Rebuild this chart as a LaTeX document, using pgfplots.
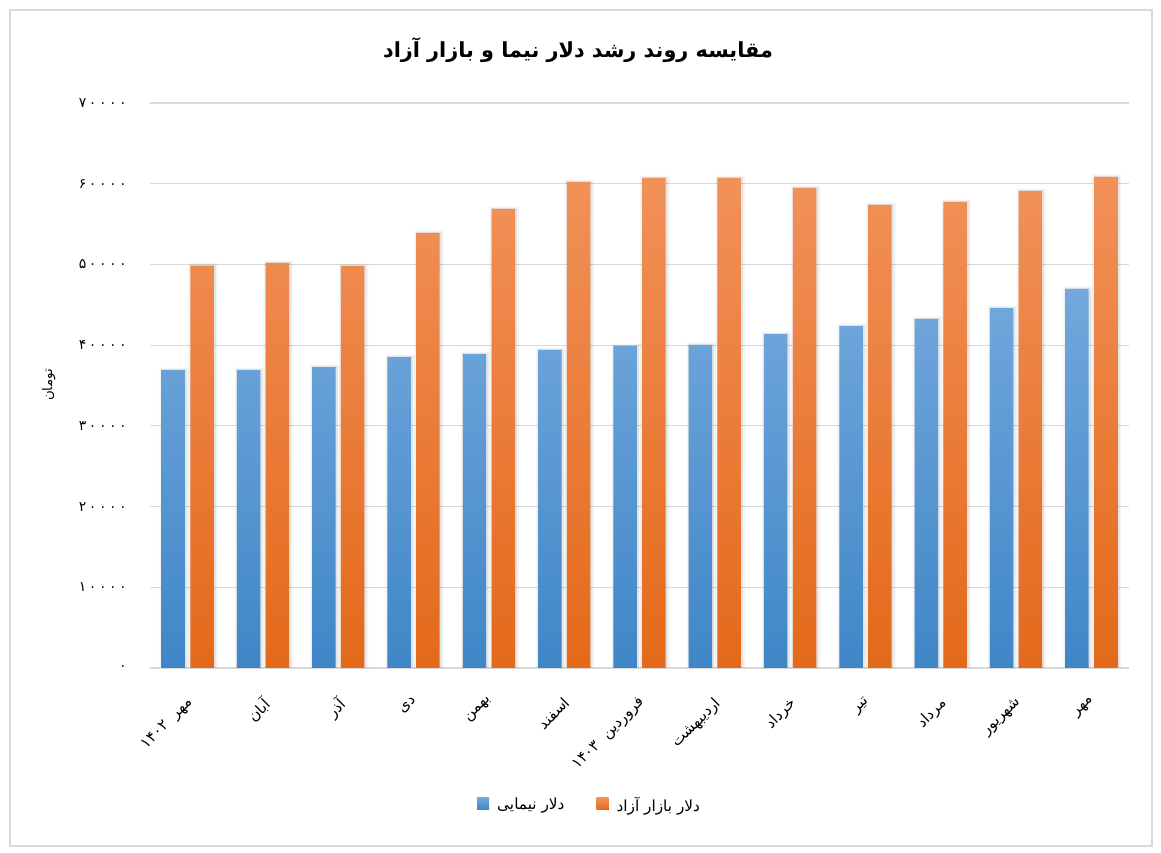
\documentclass[border=0pt]{standalone}
\usepackage{fontspec}
\usepackage{pgfplots}
\usepackage{pgfplotstable}
\pgfplotsset{compat=1.18}
\TeXXeTstate=1
\newfontfamily\arabicfont[Script=Arabic]{DejaVu Sans}
\newfontfamily\digitfont[Script=Arabic, LetterSpace=18]{DejaVu Sans}
\definecolor{gridgray}{HTML}{D9D9D9}
\definecolor{blueTop}{HTML}{72A8DC}
\definecolor{blueBot}{HTML}{3F86C7}
\definecolor{orTop}{HTML}{F19159}
\definecolor{orBot}{HTML}{E4691A}

\pgfplotstableread{
x nima azad
0 36920 49850
1 36920 50180
2 37290 49810
3 38530 53900
4 38900 56870
5 39400 60220
6 39900 60710
7 40020 60710
8 41380 59470
9 42370 57370
10 43240 57740
11 44600 59100
12 46960 60840
}\datatable

\begin{document}
\begin{tikzpicture}
\useasboundingbox (-112.5pt,-138.75pt) rectangle (758.25pt,501pt);
\draw[gridgray, line width=1pt] (-105pt,-133.5pt) rectangle (751.5pt,493.5pt);
\begin{axis}[
  at={(0pt,0pt)}, anchor=south west,
  scale only axis, width=734.25pt, height=423.75pt,
  xmin=-0.5, xmax=12.5, ymin=0, ymax=70000,
  ybar, bar width=17.6pt,
  axis x line*=bottom, axis y line*=left,
  y axis line style={draw=none},
  x axis line style={gridgray, line width=1.3pt},
  major tick length=0pt,
  xtick style={draw=none}, ytick style={draw=none},
  ymajorgrids, grid style={gridgray, line width=0.9pt},
  scaled y ticks=false,
  xtick={0,...,12},
  xticklabels={
    {\beginR مهر \ \beginL ۱۴۰۲\endL\endR},
    {\beginR آبان\endR},
    {\beginR آذر\endR},
    {\beginR دی\endR},
    {\beginR بهمن\endR},
    {\beginR اسفند\endR},
    {\beginR فروردین \ \beginL ۱۴۰۳\endL\endR},
    {\beginR اردیبهشت\endR},
    {\beginR خرداد\endR},
    {\beginR تیر\endR},
    {\beginR مرداد\endR},
    {\beginR شهریور\endR},
    {\beginR مهر\endR}},
  xticklabel style={yshift=-16pt, xshift=-1.5pt, rotate=45, anchor=north east, font=\arabicfont\fontsize{11.3}{13}\selectfont},
  ytick={0,10000,20000,30000,40000,50000,60000,70000},
  yticklabels={۰,۱۰۰۰۰,۲۰۰۰۰,۳۰۰۰۰,۴۰۰۰۰,۵۰۰۰۰,۶۰۰۰۰,۷۰۰۰۰},
  yticklabel style={xshift=-14pt, font=\digitfont\fontsize{10.5}{12}\selectfont},
  legend columns=2,
  legend style={at={(0.4494,-0.2425)}, anchor=center, draw=none,
    font=\arabicfont\fontsize{11.5}{14}\selectfont,
    /tikz/every odd column/.append style={column sep=4pt},
    /tikz/every even column/.append style={column sep=22pt}},
  legend image code/.code={\fill[#1] (0pt,-3.5pt) rectangle (9pt,5.5pt);},
]
% soft shadows
\addplot[forget plot, draw=none, fill=black, fill opacity=0.04, bar width=22pt, bar shift=-10.0pt] table[x=x,y expr=\thisrow{nima}+300]{\datatable};
\addplot[forget plot, draw=none, fill=black, fill opacity=0.07, bar width=19.5pt, bar shift=-10.2pt] table[x=x,y expr=\thisrow{nima}+140]{\datatable};
\addplot[forget plot, draw=none, fill=black, fill opacity=0.04, bar width=22pt, bar shift=11.6pt] table[x=x,y expr=\thisrow{azad}+300]{\datatable};
\addplot[forget plot, draw=none, fill=black, fill opacity=0.07, bar width=19.5pt, bar shift=11.4pt] table[x=x,y expr=\thisrow{azad}+140]{\datatable};
\addplot[draw=none, bar shift=-10.8pt, top color=blueTop, bottom color=blueBot] table[x=x,y=nima]{\datatable};
\addlegendentry{\beginR دلار نیمایی\endR}
\addplot[draw=none, bar shift=10.8pt, top color=orTop, bottom color=orBot] table[x=x,y=azad]{\datatable};
\addlegendentry{\beginR دلار بازار آزاد\endR}
\end{axis}
\node[font=\arabicfont\bfseries\fontsize{15.6}{19}\selectfont] at (321pt,463.5pt) {\beginR مقایسه روند رشد دلار نیما و بازار آزاد\endR};
\node[rotate=90, font=\arabicfont\fontsize{10}{12}\selectfont] at (-76pt,212.25pt) {\beginR تومان\endR};
\end{tikzpicture}
\end{document}
